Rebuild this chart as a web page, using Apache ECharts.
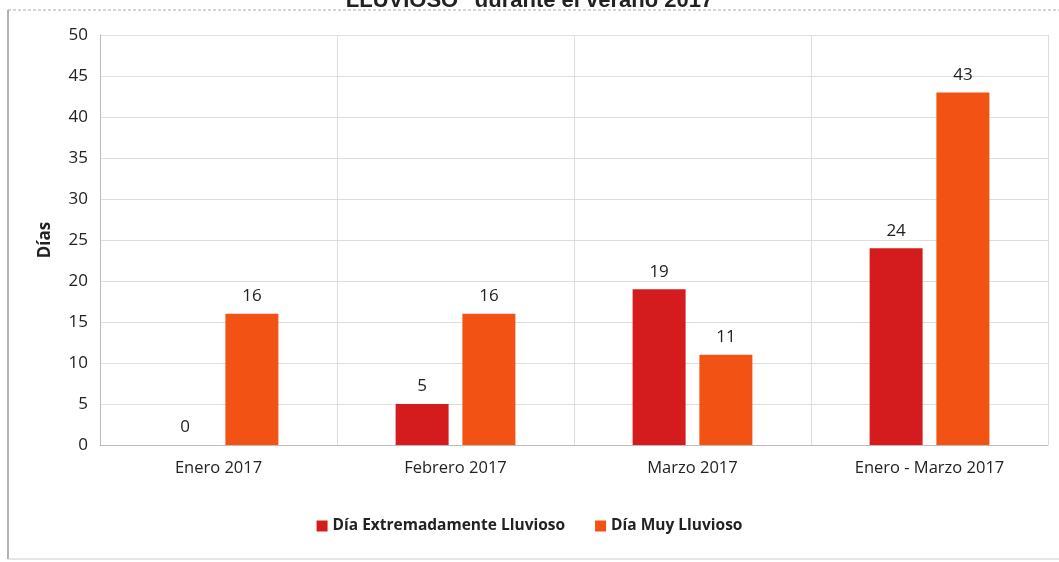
<!DOCTYPE html>
<html><head><meta charset="utf-8">
<script src="https://cdn.jsdelivr.net/npm/echarts@6/dist/echarts.min.js"></script>
<style>html,body{margin:0;padding:0;background:#fff}#c{width:1059px;height:562px}</style>
</head><body><div id="c"></div>
<script>
const categories = ['Enero 2017', 'Febrero 2017', 'Marzo 2017', 'Enero - Marzo 2017'];
const seriesNames = ['Día Extremadamente Lluvioso', 'Día Muy Lluvioso'];
const extremo = [0, 5, 19, 24];
const muy = [16, 16, 11, 43];
const titleText = 'LLUVIOSO" durante el verano 2017';
const yTicks = { min: 0, max: 50, interval: 5 };

const font = '"Open Sans", "DejaVu Sans", sans-serif';
const chart = echarts.init(document.getElementById('c'));
const label = { show: true, position: 'top', distance: 9, color: '#222', fontFamily: font, fontSize: 17 };
chart.setOption({
  animation: false,
  title: { text: titleText, left: 'center', top: -15, textStyle: { fontFamily: '"Liberation Sans", Arial, sans-serif', fontSize: 22, fontWeight: 'bold', color: '#222' } },
  graphic: [
    { type: 'line', shape: { x1: 8, y1: 10, x2: 1059, y2: 10 }, style: { stroke: '#aaa', lineWidth: 1, lineDash: [3, 2] } },
    { type: 'line', shape: { x1: 8, y1: 10, x2: 8, y2: 559 }, style: { stroke: '#999', lineWidth: 1.5 } },
    { type: 'line', shape: { x1: 8, y1: 559, x2: 1059, y2: 559 }, style: { stroke: '#ccc', lineWidth: 1 } }
  ],
  grid: { left: 100, right: 11, top: 35, bottom: 117, containLabel: false },
  legend: {
    bottom: 23, left: 'center', itemWidth: 11, itemHeight: 11, itemGap: 30, icon: 'rect',
    textStyle: { fontFamily: font, fontSize: 15.5, fontWeight: 'bold', color: '#222' },
    data: seriesNames
  },
  xAxis: {
    type: 'category', data: categories,
    axisLine: { lineStyle: { color: '#bbb' } },
    axisTick: { show: false },
    splitLine: { show: true, lineStyle: { color: '#ddd' } },
    axisLabel: { color: '#222', fontFamily: font, fontSize: 16.5, margin: 15 }
  },
  yAxis: {
    type: 'value', min: yTicks.min, max: yTicks.max, interval: yTicks.interval,
    name: 'Días', nameLocation: 'middle', nameGap: 46,
    nameTextStyle: { fontFamily: font, fontSize: 17, fontWeight: 'bold', color: '#222' },
    axisLine: { show: true, lineStyle: { color: '#bbb' } },
    axisTick: { show: false },
    splitLine: { lineStyle: { color: '#ddd' } },
    axisLabel: { color: '#222', fontFamily: font, fontSize: 17, margin: 12 }
  },
  series: [
    { name: seriesNames[0], type: 'bar', data: extremo, barWidth: 53, barGap: '26%',
      itemStyle: { color: '#d41c1f' }, label },
    { name: seriesNames[1], type: 'bar', data: muy, barWidth: 53,
      itemStyle: { color: '#f25314' }, label }
  ]
});
</script></body></html>
